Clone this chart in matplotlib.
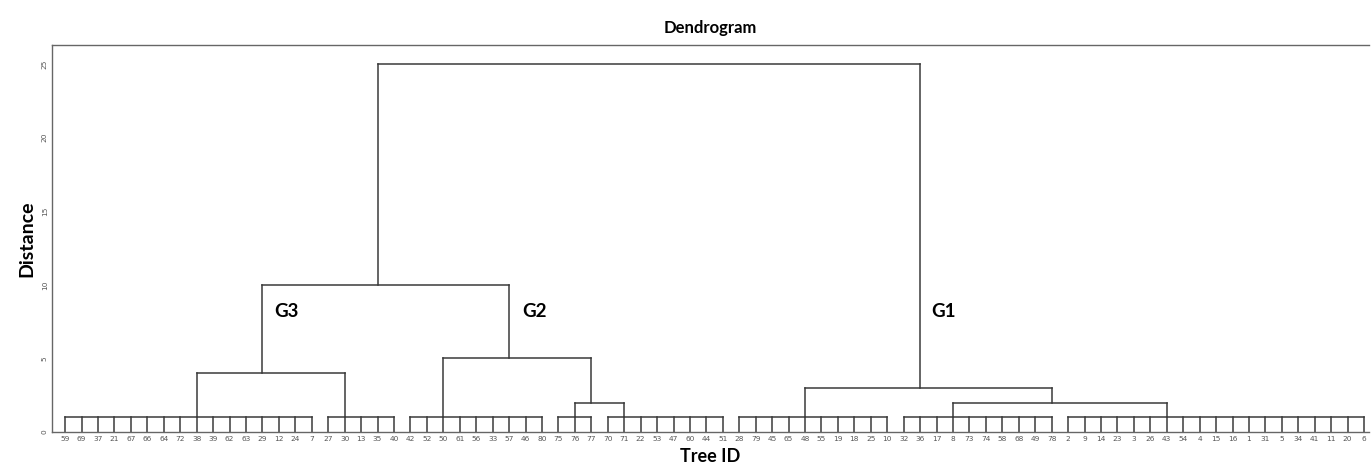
import matplotlib
matplotlib.use('Agg')
from matplotlib import pyplot as plt

# leaf groups in drawing order: (leaf labels, leaf that carries the link up)
grp_a = [59, 69, 37, 21, 67, 66, 64, 72, 38, 39, 62, 63, 29, 12, 24, 7]
grp_b = [27, 30, 13, 35, 40]
grp_c = [42, 52, 50, 61, 56, 33, 57, 46, 80]
grp_d = [75, 76, 77]
grp_e = [70, 71, 22, 53, 47, 60, 44, 51]
grp_f = [28, 79, 45, 65, 48, 55, 19, 18, 25, 10]
grp_g = [32, 36, 17, 8, 73, 74, 58, 68, 49, 78]
grp_h = [2, 9, 14, 23, 3, 26, 43, 54, 4, 15, 16, 1, 31, 5, 34, 41, 11, 20, 6]
groups = [grp_a, grp_b, grp_c, grp_d, grp_e, grp_f, grp_g, grp_h]
anchors = [38, 30, 50, 76, 71, 48, 8, 43]
group_height = 1

# merges: (left child, right child, height)
merges = {
    'AB': ('A', 'B', 4),
    'DE': ('D', 'E', 2),
    'CDE': ('C', 'DE', 5),
    'GH': ('G', 'H', 2),
    'FGH': ('F', 'GH', 3),
    'G3G2': ('AB', 'CDE', 10),
    'root': ('G3G2', 'FGH', 25),
}
group_tags = [('G3', 12.7, 8.2), ('G2', 27.8, 8.2), ('G1', 52.7, 8.2)]

leaves = [leaf for g in groups for leaf in g]
pos = {leaf: i for i, leaf in enumerate(leaves)}

fig = plt.figure(figsize=(13.71, 4.70), dpi=100)
ax = fig.add_axes([52 / 1371, 38 / 470, 1317 / 1371, 387 / 470])
lc = '#3a3a3a'
lw = 1.1

# node x position and the height where its vertical starts
node_x, node_y = {}, {}
for name, g, a in zip('ABCDEFGH', groups, anchors):
    for leaf in g:
        ax.plot([pos[leaf], pos[leaf]], [0, group_height], c=lc, lw=lw)
    ax.plot([pos[g[0]], pos[g[-1]]], [group_height, group_height], c=lc, lw=lw)
    node_x[name] = pos[a]
    node_y[name] = group_height

for name, (l, r, h) in merges.items():
    xl, xr = node_x[l], node_x[r]
    ax.plot([xl, xl], [node_y[l], h], c=lc, lw=lw)
    ax.plot([xr, xr], [node_y[r], h], c=lc, lw=lw)
    ax.plot([xl, xr], [h, h], c=lc, lw=lw)
    # link snaps to a leaf column
    node_x[name] = (xl + xr) // 2
    node_y[name] = h

for tag, x, y in group_tags:
    ax.text(x, y, tag, fontsize=13.5, fontweight='bold', family='Lato',
            va='center', ha='left')

ax.set_xlim(-0.8, 79.3)
ax.set_ylim(0, 26.3)
ax.set_xticks(range(len(leaves)))
ax.set_xticklabels([str(l) for l in leaves], fontsize=5.3, color='#555555')
ax.set_yticks([0, 5, 10, 15, 20, 25])
ax.set_yticklabels(['0', '5', '10', '15', '20', '25'], fontsize=5.3,
                   color='#555555', rotation=90, va='center')
ax.tick_params(length=0, pad=3)
ax.spines['right'].set_visible(False)
for s in ['left', 'top', 'bottom']:
    ax.spines[s].set_color('#666666')
    ax.spines[s].set_linewidth(1.0)

ax.set_title('Dendrogram', fontsize=12, fontweight='bold', family='Lato', pad=9)
ax.set_xlabel('Tree ID', fontsize=13, fontweight='bold', family='Lato', labelpad=4)
ax.set_ylabel('Distance', fontsize=14, fontweight='bold', family='Lato', labelpad=5)

fig.savefig('out.png', dpi=100)
